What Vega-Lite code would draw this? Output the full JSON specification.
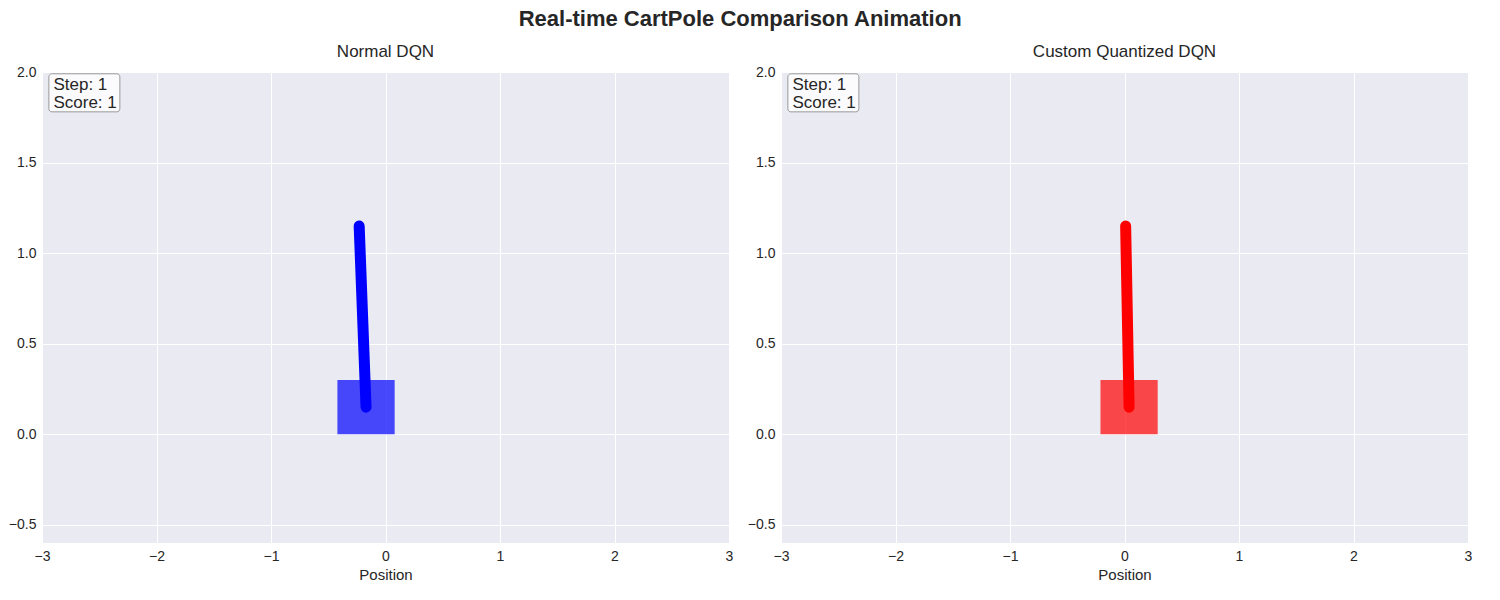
{
  "$schema": "https://vega.github.io/schema/vega-lite/v6.json",
  "title": {"text": "Real-time CartPole Comparison Animation", "fontSize": 22, "fontWeight": "bold", "font": "Liberation Sans", "color": "#262626", "offset": 12, "anchor": "middle"},
  "background": "white",
  "padding": {"left": 8, "top": 8, "right": 12, "bottom": 5},
  "config": {
    "font": "Liberation Sans",
    "view": {"fill": "#EAEAF2", "stroke": null},
    "axis": {"grid": true, "gridColor": "white", "gridWidth": 1, "domain": false, "ticks": false, "labelFontSize": 14, "labelColor": "#262626", "titleFontSize": 15, "titleFontWeight": "normal", "titleColor": "#262626", "labelPadding": 6, "labelFlush": false},
    "scale": {"nice": false, "zero": false},
    "title": {"fontSize": 17, "fontWeight": "normal", "color": "#262626", "offset": 4},
    "concat": {"spacing": 14}
  },
  "datasets": {
    "carts": [
      {"agent": "Normal DQN", "x1": -0.42, "x2": 0.08, "y1": 0, "y2": 0.3},
      {"agent": "Custom Quantized DQN", "x1": -0.21, "x2": 0.29, "y1": 0, "y2": 0.3}
    ],
    "poles": [
      {"agent": "Normal DQN", "x": -0.17, "y": 0.15, "o": 0},
      {"agent": "Normal DQN", "x": -0.23, "y": 1.15, "o": 1},
      {"agent": "Custom Quantized DQN", "x": 0.04, "y": 0.15, "o": 0},
      {"agent": "Custom Quantized DQN", "x": 0.01, "y": 1.15, "o": 1}
    ],
    "info": [{"x": -2.94, "y": 1.99, "x2": -2.32, "y2": 1.78, "tx": -2.9, "ty1": 1.93, "ty2": 1.83, "l1": "Step: 1", "l2": "Score: 1"}]
  },
  "hconcat": [
    {
      "title": "Normal DQN",
      "width": 687, "height": 471,
      "layer": [
        {"data": {"name": "info"}, "mark": {"type": "rect", "fill": "white", "fillOpacity": 0.8, "stroke": "#999", "cornerRadius": 3},
         "encoding": {"x": {"field": "x", "type": "quantitative", "scale": {"domain": [-3, 3]}, "axis": {"values": [-3,-2,-1,0,1,2,3], "title": "Position", "format": "d"}}, "x2": {"field": "x2"},
                      "y": {"field": "y", "type": "quantitative", "scale": {"domain": [-0.5, 2]}, "axis": {"values": [-0.5,0,0.5,1,1.5,2], "format": ".1f", "title": null}}, "y2": {"field": "y2"}}},
        {"data": {"name": "info"}, "mark": {"type": "text", "align": "left", "fontSize": 17, "color": "#262626"},
         "encoding": {"x": {"field": "tx", "type": "quantitative"}, "y": {"field": "ty1", "type": "quantitative"}, "text": {"field": "l1"}}},
        {"data": {"name": "info"}, "mark": {"type": "text", "align": "left", "fontSize": 17, "color": "#262626"},
         "encoding": {"x": {"field": "tx", "type": "quantitative"}, "y": {"field": "ty2", "type": "quantitative"}, "text": {"field": "l2"}}},
        {"data": {"name": "carts"}, "transform": [{"filter": "datum.agent == 'Normal DQN'"}], "mark": {"type": "rect", "color": "blue", "opacity": 0.7},
         "encoding": {"x": {"field": "x1", "type": "quantitative"}, "x2": {"field": "x2"}, "y": {"field": "y1", "type": "quantitative"}, "y2": {"field": "y2"}}},
        {"data": {"name": "poles"}, "transform": [{"filter": "datum.agent == 'Normal DQN'"}], "mark": {"type": "line", "color": "blue", "strokeWidth": 11, "strokeCap": "round"},
         "encoding": {"x": {"field": "x", "type": "quantitative"}, "y": {"field": "y", "type": "quantitative"}, "order": {"field": "o"}}}
      ]
    },
    {
      "title": "Custom Quantized DQN",
      "width": 687, "height": 471,
      "layer": [
        {"data": {"name": "info"}, "mark": {"type": "rect", "fill": "white", "fillOpacity": 0.8, "stroke": "#999", "cornerRadius": 3},
         "encoding": {"x": {"field": "x", "type": "quantitative", "scale": {"domain": [-3, 3]}, "axis": {"values": [-3,-2,-1,0,1,2,3], "title": "Position", "format": "d"}}, "x2": {"field": "x2"},
                      "y": {"field": "y", "type": "quantitative", "scale": {"domain": [-0.5, 2]}, "axis": {"values": [-0.5,0,0.5,1,1.5,2], "format": ".1f", "title": null}}, "y2": {"field": "y2"}}},
        {"data": {"name": "info"}, "mark": {"type": "text", "align": "left", "fontSize": 17, "color": "#262626"},
         "encoding": {"x": {"field": "tx", "type": "quantitative"}, "y": {"field": "ty1", "type": "quantitative"}, "text": {"field": "l1"}}},
        {"data": {"name": "info"}, "mark": {"type": "text", "align": "left", "fontSize": 17, "color": "#262626"},
         "encoding": {"x": {"field": "tx", "type": "quantitative"}, "y": {"field": "ty2", "type": "quantitative"}, "text": {"field": "l2"}}},
        {"data": {"name": "carts"}, "transform": [{"filter": "datum.agent == 'Custom Quantized DQN'"}], "mark": {"type": "rect", "color": "red", "opacity": 0.7},
         "encoding": {"x": {"field": "x1", "type": "quantitative"}, "x2": {"field": "x2"}, "y": {"field": "y1", "type": "quantitative"}, "y2": {"field": "y2"}}},
        {"data": {"name": "poles"}, "transform": [{"filter": "datum.agent == 'Custom Quantized DQN'"}], "mark": {"type": "line", "color": "red", "strokeWidth": 11, "strokeCap": "round"},
         "encoding": {"x": {"field": "x", "type": "quantitative"}, "y": {"field": "y", "type": "quantitative"}, "order": {"field": "o"}}}
      ]
    }
  ]
}
